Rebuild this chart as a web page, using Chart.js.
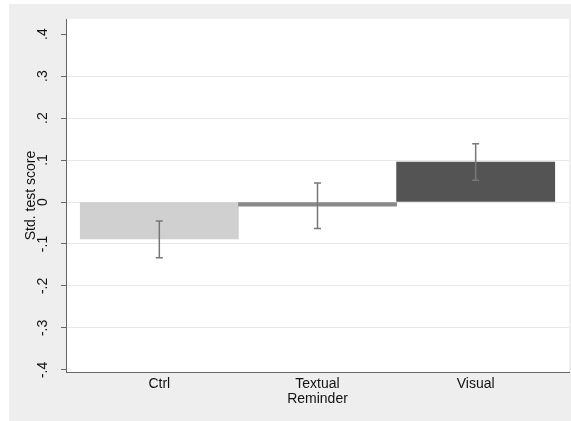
<!DOCTYPE html>
<html lang="en">
<head>
    <meta charset="UTF-8">
    <title>Std. test score by treatment</title>
    <script src="https://cdn.jsdelivr.net/npm/chart.js"></script>
    <style>
        body {
            margin: 0;
            background-color: #ffffff;
        }
        #wrap {
            width: 571px;
            height: 421px;
        }
    </style>
</head>
<body>
    <div id="wrap"><canvas id="scoreChart" width="571" height="421"></canvas></div>

    <script>
        // Data
        const groups = ['Ctrl', ['Textual', 'Reminder'], 'Visual'];
        const groupPos = [1, 2, 3];
        const meanScore = [-0.088, -0.010, 0.095];
        const ciLow = [-0.133, -0.063, 0.052];
        const ciHigh = [-0.045, 0.045, 0.139];
        const barColors = ['#d0d0d0', '#8a8a8a', '#545454'];
        const yTicks = [-0.4, -0.3, -0.2, -0.1, 0, 0.1, 0.2, 0.3, 0.4];
        const yTickLabels = ['-.4', '-.3', '-.2', '-.1', '0', '.1', '.2', '.3', '.4'];

        const font = { family: "'Liberation Sans', Arial, sans-serif", size: 14 };

        // Gray frame and white plot region
        const backdrop = {
            id: 'backdrop',
            beforeDraw(chart) {
                const c = chart.ctx;
                const a = chart.chartArea;
                c.save();
                c.fillStyle = '#eeeeee';
                c.fillRect(9, 4, chart.width - 9, chart.height - 4);
                c.fillStyle = '#ffffff';
                c.fillRect(a.left, a.top, a.right - a.left, a.bottom - a.top);
                c.restore();
            }
        };

        // Confidence interval whiskers
        const whiskers = {
            id: 'whiskers',
            afterDatasetsDraw(chart) {
                const c = chart.ctx;
                const xs = chart.scales.x;
                const ys = chart.scales.y;
                c.save();
                c.strokeStyle = '#777777';
                c.lineWidth = 1.5;
                groupPos.forEach((p, i) => {
                    const x = xs.getPixelForValue(p);
                    const y1 = ys.getPixelForValue(ciLow[i]);
                    const y2 = ys.getPixelForValue(ciHigh[i]);
                    c.beginPath();
                    c.moveTo(x, y1);
                    c.lineTo(x, y2);
                    c.moveTo(x - 3.5, y1);
                    c.lineTo(x + 3.5, y1);
                    c.moveTo(x - 3.5, y2);
                    c.lineTo(x + 3.5, y2);
                    c.stroke();
                });
                c.restore();
            }
        };

        // Stata-style vertical y tick labels
        const yLabels = {
            id: 'yLabels',
            afterDraw(chart) {
                const c = chart.ctx;
                const ys = chart.scales.y;
                const x = ys.right - 22.5;
                c.save();
                c.fillStyle = '#111111';
                c.font = font.size + 'px ' + font.family;
                c.textAlign = 'center';
                c.textBaseline = 'middle';
                ys.ticks.forEach(t => {
                    const i = yTicks.findIndex(v => Math.abs(v - t.value) < 1e-6);
                    if (i < 0) return;
                    c.save();
                    c.translate(x, ys.getPixelForValue(t.value));
                    c.rotate(-Math.PI / 2);
                    c.fillText(yTickLabels[i], 0, 0);
                    c.restore();
                });
                c.restore();
            }
        };

        new Chart(document.getElementById('scoreChart'), {
            type: 'bar',
            data: {
                datasets: [{
                    data: groupPos.map((p, i) => ({ x: p, y: meanScore[i] })),
                    backgroundColor: barColors,
                    borderWidth: 0,
                    barPercentage: 1,
                    categoryPercentage: 1
                }]
            },
            options: {
                responsive: false,
                animation: false,
                layout: { padding: { top: 19, right: 2, left: 0, bottom: 0 } },
                plugins: {
                    legend: { display: false },
                    tooltip: { enabled: false }
                },
                scales: {
                    x: {
                        type: 'linear',
                        offset: false,
                        min: 0.41,
                        max: 3.59,
                        afterBuildTicks(scale) {
                            scale.ticks = groupPos.map(v => ({ value: v }));
                        },
                        afterFit(scale) {
                            scale.height = 49;
                        },
                        grid: { color: 'transparent', drawTicks: false },
                        border: { color: '#666666', width: 1 },
                        ticks: {
                            padding: 4,
                            color: '#111111',
                            font: { ...font, lineHeight: 1.1 },
                            maxRotation: 0,
                            minRotation: 0,
                            callback: (v) => groups[groupPos.indexOf(v)]
                        }
                    },
                    y: {
                        min: -0.405,
                        max: 0.436,
                        afterBuildTicks(scale) {
                            scale.ticks = yTicks.map(v => ({ value: v }));
                        },
                        afterFit(scale) {
                            scale.width = 66;
                        },
                        grid: {
                            color: (ctx) => (ctx.tick && Math.abs(ctx.tick.value) > 0.35) ? 'transparent' : '#e8e8e8',
                            tickColor: '#666666',
                            tickLength: 5,
                            lineWidth: 1
                        },
                        border: { color: '#666666', width: 1 },
                        ticks: { display: false },
                        title: {
                            display: true,
                            text: 'Std. test score',
                            color: '#111111',
                            font: font,
                            padding: { top: 23, bottom: 0 }
                        }
                    }
                }
            },
            plugins: [backdrop, whiskers, yLabels]
        });
    </script>
</body>
</html>
